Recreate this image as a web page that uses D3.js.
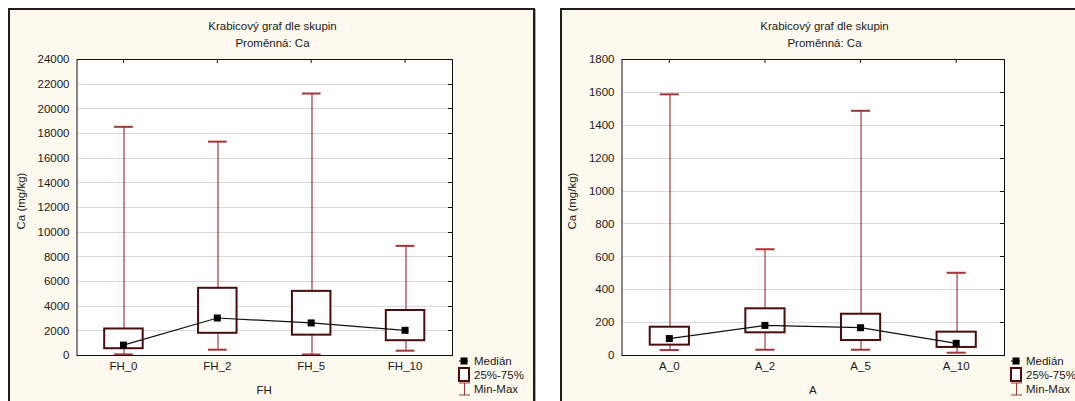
<!DOCTYPE html>
<html>
<head>
<meta charset="utf-8">
<script src="https://cdn.jsdelivr.net/npm/d3@7"></script>
<style>
  body { margin: 0; background: #fff; }
  svg { display: block; font-family: "Liberation Sans", Arial, sans-serif; }
</style>
</head>
<body>
<svg id="chart" width="1075" height="401"></svg>
<script>
// data
const fhGroups = ["FH_0", "FH_2", "FH_5", "FH_10"];
const fhMin = [50, 430, 40, 350];
const fhQ1 = [550, 1800, 1650, 1200];
const fhMedian = [800, 3000, 2600, 2000];
const fhQ3 = [2150, 5450, 5200, 3650];
const fhMax = [18500, 17300, 21200, 8850];
const fhTicks = d3.range(0, 24001, 2000);

const aGroups = ["A_0", "A_2", "A_5", "A_10"];
const aMin = [30, 32, 32, 14];
const aQ1 = [63, 138, 91, 49];
const aMedian = [100, 180, 166, 71];
const aQ3 = [172, 284, 251, 142];
const aMax = [1585, 643, 1485, 500];
const aTicks = d3.range(0, 1801, 200);

const title = "Krabicový graf dle skupin";
const subtitle = "Proměnná: Ca";
const yTitle = "Ca (mg/kg)";
const legendLabels = ["Medián", "25%-75%", "Min-Max"];

const whiskerColor = "#8e1616";
const capColor = "#a33535";
const boxColor = "#4a0c0c";

const svg = d3.select("#chart");

function panel(x0, opts) {
  const W = 525, H = 420;
  const margin = {top: 50, left: opts.left, right: 82, bottom: 74};
  const g = svg.append("g").attr("transform", "translate(" + x0 + ",9)");

  g.append("rect")
    .attr("x", 1).attr("y", 1).attr("width", W).attr("height", H)
    .attr("fill", "none").attr("stroke", "#a8a8a8").attr("stroke-width", 2);
  g.append("rect")
    .attr("x", 0).attr("y", 0).attr("width", W).attr("height", H)
    .attr("fill", "#fef9ee").attr("stroke", "#1e1e1e").attr("stroke-width", 2);

  const w = W - margin.left - margin.right;
  const h = 346 - margin.top;

  const x = d3.scaleBand().domain(opts.groups).range([0, w]);
  const y = d3.scaleLinear().domain([0, d3.max(opts.ticks)]).range([h, 0]);

  g.append("text").attr("x", W / 2 + 1).attr("y", 21).attr("text-anchor", "middle")
    .attr("font-size", 11.5).attr("fill", "#1a1a1a").text(title);
  g.append("text").attr("x", W / 2 + 1).attr("y", 38).attr("text-anchor", "middle")
    .attr("font-size", 11.5).attr("fill", "#1a1a1a").text(subtitle);

  const p = g.append("g").attr("transform", "translate(" + margin.left + "," + margin.top + ")");
  p.append("rect").attr("width", w).attr("height", h).attr("fill", "#fff");

  // grid
  p.selectAll(".grid").data(opts.ticks.slice(1, -1)).join("line")
    .attr("x1", 0).attr("x2", w)
    .attr("y1", d => Math.round(y(d)) + 0.5).attr("y2", d => Math.round(y(d)) + 0.5)
    .attr("stroke", "#d9d9d9");

  // y axis labels
  const yAxis = d3.axisLeft(y).tickValues(opts.ticks).tickFormat(d3.format("d")).tickSize(0).tickPadding(7);
  const ya = p.append("g").call(yAxis);
  ya.select(".domain").remove();
  ya.selectAll("text").attr("font-size", 11.5).attr("fill", "#1a1a1a")
    .attr("font-family", "Liberation Sans, Arial, sans-serif");

  // x axis labels
  const xAxis = d3.axisBottom(x).tickSize(0).tickPadding(7);
  const xa = p.append("g").attr("transform", "translate(0," + h + ")").call(xAxis);
  xa.select(".domain").remove();
  xa.selectAll("text").attr("font-size", 11.5).attr("fill", "#1a1a1a")
    .attr("font-family", "Liberation Sans, Arial, sans-serif");

  // inner ticks top and right
  p.selectAll(".tt").data(opts.groups).join("line")
    .attr("x1", d => x(d) + x.bandwidth() / 2).attr("x2", d => x(d) + x.bandwidth() / 2)
    .attr("y1", 0).attr("y2", 4).attr("stroke", "#111");
  p.selectAll(".rt").data(opts.ticks).join("line")
    .attr("x1", w - 4).attr("x2", w)
    .attr("y1", d => Math.round(y(d)) + 0.5).attr("y2", d => Math.round(y(d)) + 0.5)
    .attr("stroke", "#111");

  const rows = opts.groups.map((gname, i) => ({
    g: gname, min: opts.min[i], q1: opts.q1[i], med: opts.med[i], q3: opts.q3[i], max: opts.max[i]
  }));
  const cx = d => x(d.g) + x.bandwidth() / 2;
  const bw = x.bandwidth() * 0.41;
  const cw = x.bandwidth() * 0.2;

  p.selectAll(".wh").data(rows).join("line")
    .attr("x1", d => Math.round(cx(d)) + 0.5).attr("x2", d => Math.round(cx(d)) + 0.5)
    .attr("y1", d => y(d.max)).attr("y2", d => y(d.min))
    .attr("stroke", whiskerColor);
  p.selectAll(".capT").data(rows).join("line")
    .attr("x1", d => cx(d) - cw / 2).attr("x2", d => cx(d) + cw / 2)
    .attr("y1", d => y(d.max)).attr("y2", d => y(d.max))
    .attr("stroke", capColor).attr("stroke-width", 2);
  p.selectAll(".capB").data(rows).join("line")
    .attr("x1", d => cx(d) - cw / 2).attr("x2", d => cx(d) + cw / 2)
    .attr("y1", d => y(d.min)).attr("y2", d => y(d.min))
    .attr("stroke", capColor).attr("stroke-width", 2);

  p.selectAll(".box").data(rows).join("rect")
    .attr("x", d => cx(d) - bw / 2).attr("width", bw)
    .attr("y", d => y(d.q3)).attr("height", d => y(d.q1) - y(d.q3))
    .attr("fill", "#fff").attr("stroke", boxColor).attr("stroke-width", 2);

  const line = d3.line().x(cx).y(d => y(d.med));
  p.append("path").attr("d", line(rows)).attr("fill", "none").attr("stroke", "#111").attr("stroke-width", 1.2);
  p.selectAll(".med").data(rows).join("rect")
    .attr("x", d => cx(d) - 3.5).attr("y", d => y(d.med) - 3.5)
    .attr("width", 7).attr("height", 7).attr("fill", "#000");

  // frame
  p.append("rect").attr("x", 0.5).attr("y", 0.5).attr("width", w).attr("height", h)
    .attr("fill", "none").attr("stroke", "#111");

  // x title
  g.append("text").attr("x", margin.left + w / 2).attr("y", 385).attr("text-anchor", "middle")
    .attr("font-size", 11.5).attr("fill", "#1a1a1a").text(opts.xTitle);
  // y title
  g.append("text").attr("transform", "translate(" + opts.yTitleX + "," + (margin.top + h / 2 - 6) + ") rotate(-90)")
    .attr("text-anchor", "middle").attr("font-size", 11.5).attr("fill", "#1a1a1a").text(yTitle);

  // legend
  const lg = g.append("g").attr("transform", "translate(" + opts.legendX + ",0)");
  lg.append("line").attr("x1", 0).attr("x2", 9).attr("y1", 352).attr("y2", 352).attr("stroke", "#111");
  lg.append("rect").attr("x", 1.5).attr("y", 348.5).attr("width", 7).attr("height", 7).attr("fill", "#000");
  lg.append("rect").attr("x", 0).attr("y", 359).attr("width", 10).attr("height", 13)
    .attr("fill", "#fff").attr("stroke", boxColor).attr("stroke-width", 2);
  lg.append("line").attr("x1", 5.5).attr("x2", 5.5).attr("y1", 374).attr("y2", 386).attr("stroke", capColor);
  lg.append("line").attr("x1", 0).attr("x2", 11).attr("y1", 374).attr("y2", 374).attr("stroke", capColor);
  lg.append("line").attr("x1", 0).attr("x2", 11).attr("y1", 386).attr("y2", 386).attr("stroke", capColor);
  lg.selectAll(".lt").data(legendLabels).join("text")
    .attr("x", 15).attr("y", (d, i) => 356 + i * 14)
    .attr("font-size", 11.5).attr("fill", "#1a1a1a").text(d => d);
}

panel(9, {groups: fhGroups, min: fhMin, q1: fhQ1, med: fhMedian, q3: fhQ3, max: fhMax,
  ticks: fhTicks, left: 67.5, xTitle: "FH", yTitleX: 16, legendX: 450});
panel(561, {groups: aGroups, min: aMin, q1: aQ1, med: aMedian, q3: aQ3, max: aMax,
  ticks: aTicks, left: 60.5, xTitle: "A", yTitleX: 15, legendX: 450});
</script>
</body>
</html>
